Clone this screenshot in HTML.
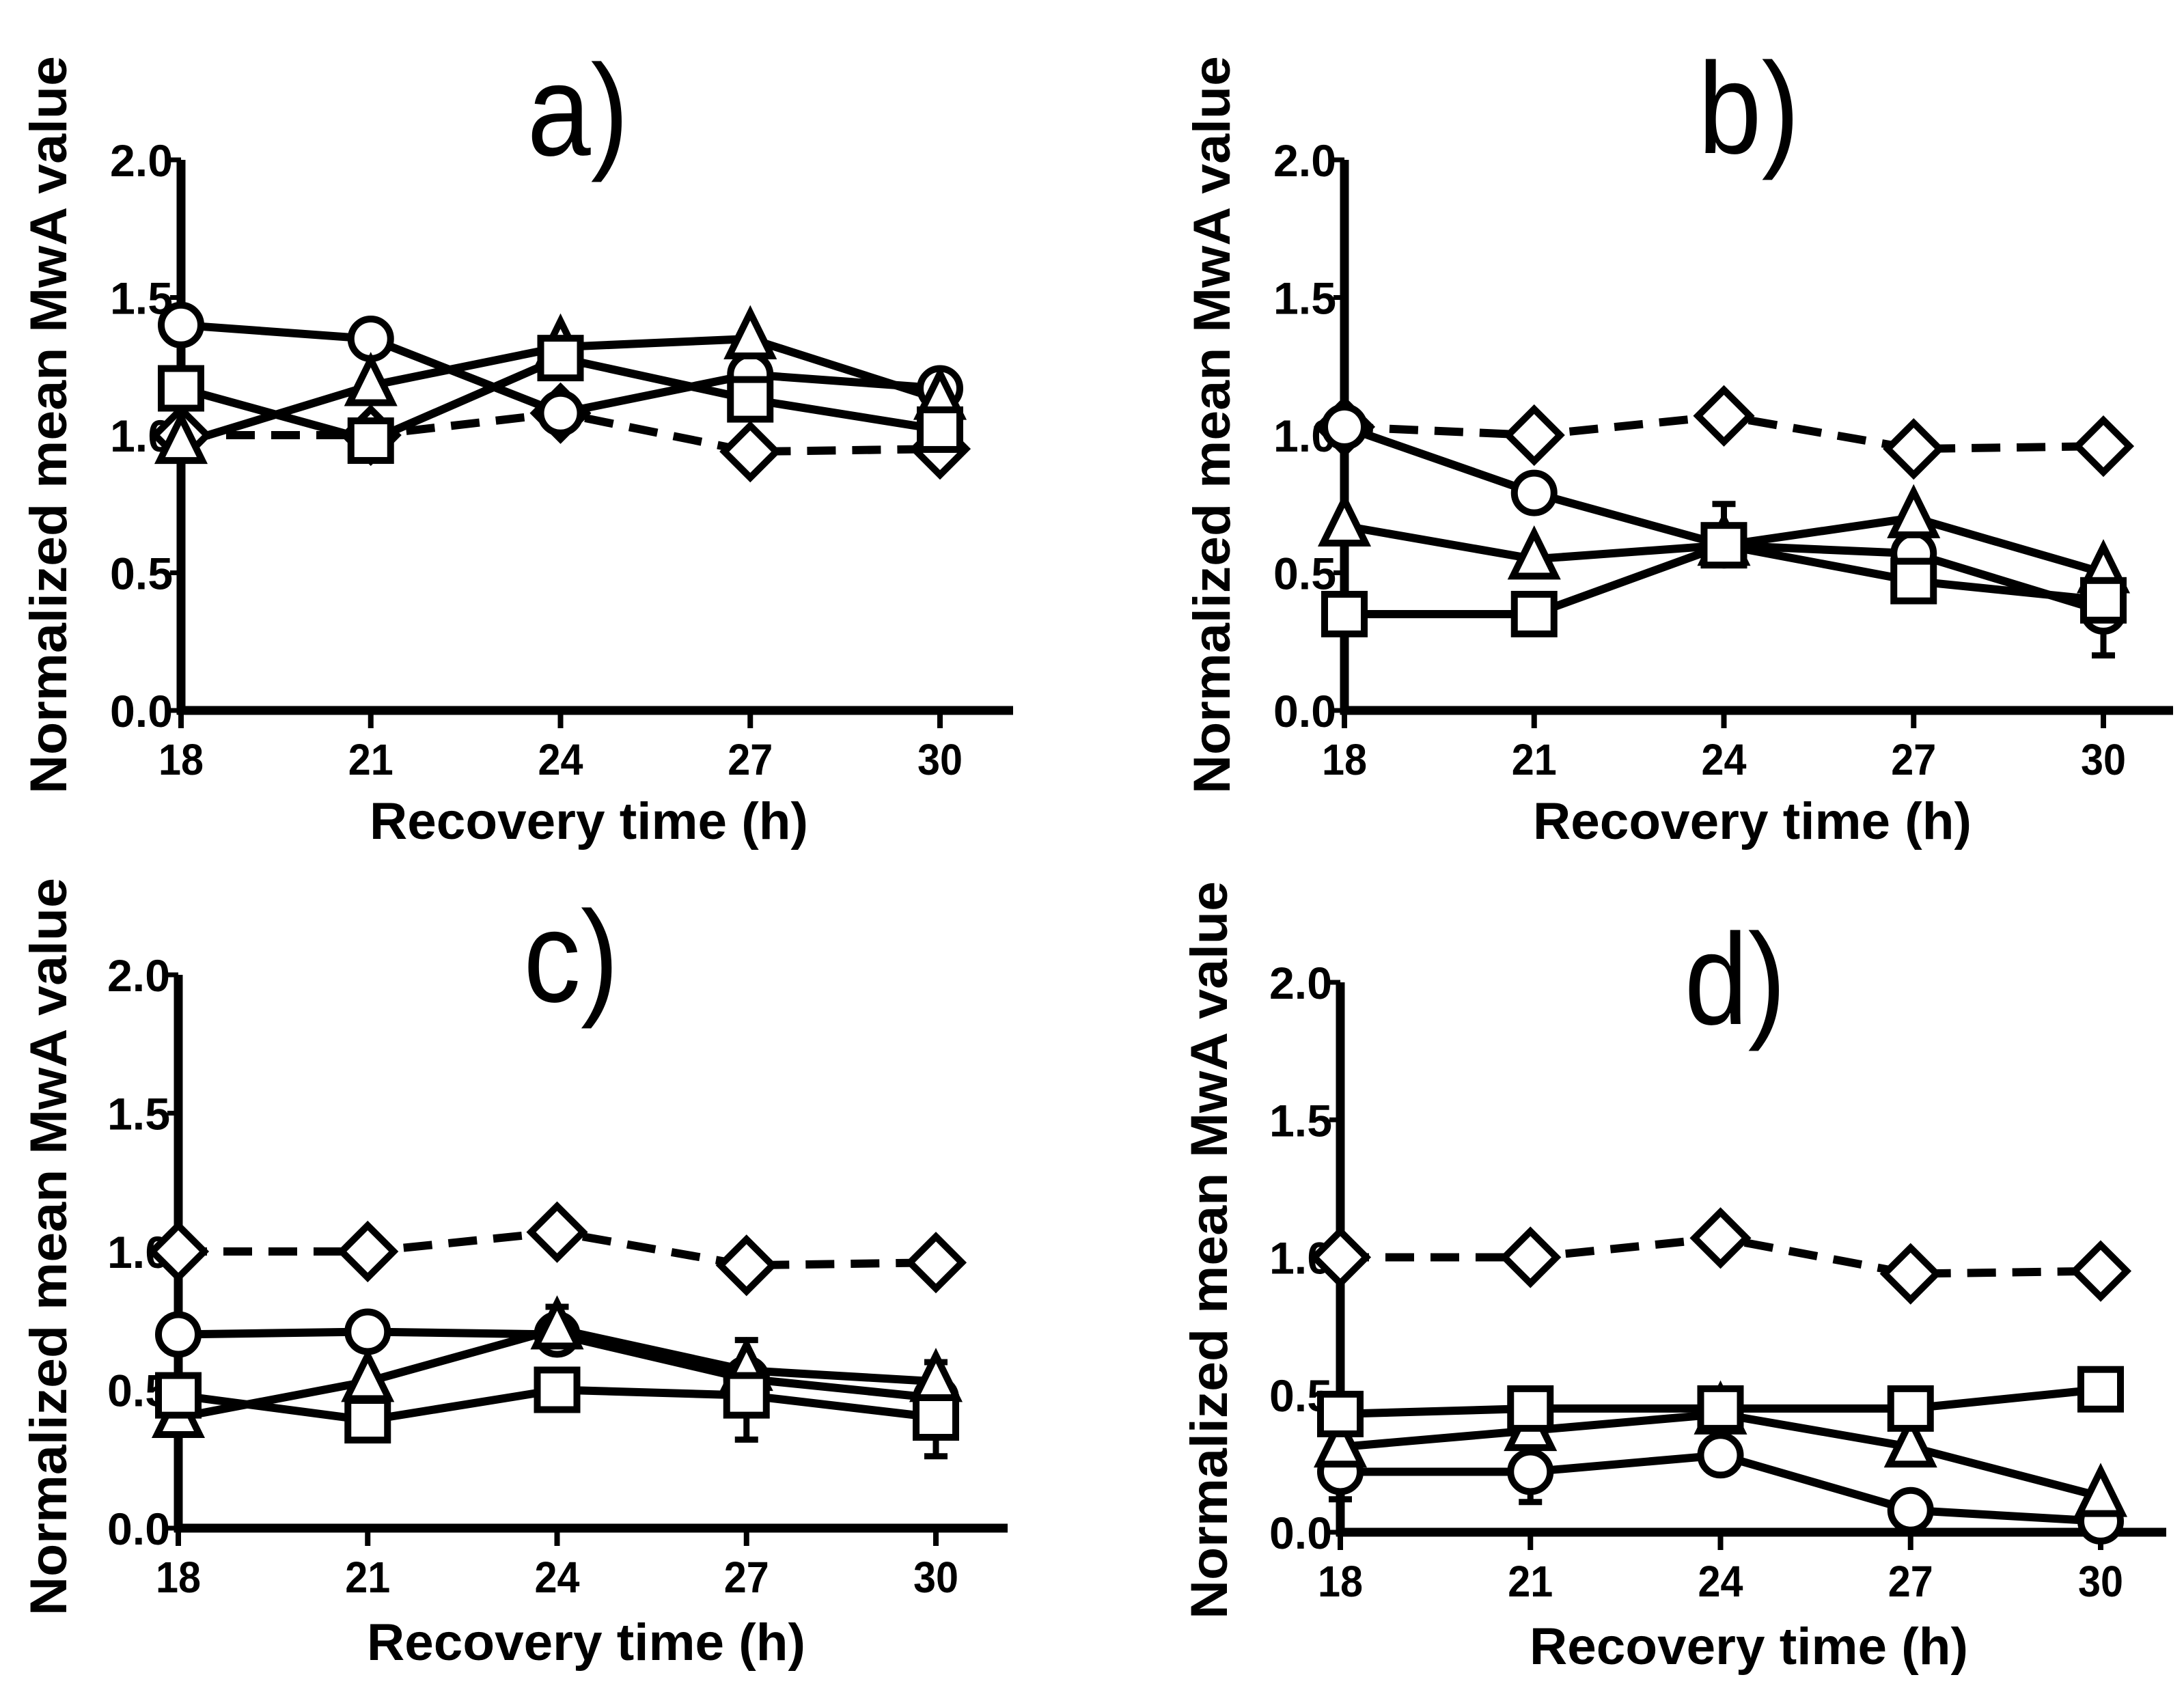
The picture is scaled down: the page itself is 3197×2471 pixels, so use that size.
<!DOCTYPE html>
<html><head><meta charset="utf-8"><style>
html,body{margin:0;padding:0;background:#fff;}
svg{display:block;font-family:"Liberation Sans",Arial,sans-serif;}
</style></head><body>
<svg id="fig" width="3197" height="2471" viewBox="0 0 3197 2471" xmlns="http://www.w3.org/2000/svg"></svg>
<script>
const categories = [18, 21, 24, 27, 30];
const yTicks = [0.0, 0.5, 1.0, 1.5, 2.0];
const yTickLabels = ["0.0", "0.5", "1.0", "1.5", "2.0"];
const xTickLabels = ["18", "21", "24", "27", "30"];
const panelTitles = ["a)", "b)", "c)", "d)"];

const aDiamond = [1.0, 1.0, 1.08, 0.94, 0.95];
const aCircle = [1.40, 1.35, 1.08, 1.22, 1.17];
const aTriangle = [0.97, 1.18, 1.32, 1.35, 1.13];
const aSquare = [1.17, 0.98, 1.28, 1.13, 1.02];

const bDiamond = [1.03, 1.0, 1.07, 0.95, 0.96];
const bCircle = [1.03, 0.79, 0.60, 0.57, 0.36];
const bTriangle = [0.67, 0.55, 0.60, 0.70, 0.50];
const bSquare = [0.35, 0.35, 0.60, 0.47, 0.40];

const cDiamond = [1.0, 1.0, 1.07, 0.95, 0.96];
const cCircle = [0.70, 0.71, 0.70, 0.54, 0.47];
const cTriangle = [0.40, 0.53, 0.72, 0.57, 0.53];
const cSquare = [0.48, 0.39, 0.50, 0.48, 0.40];

const dDiamond = [1.0, 1.0, 1.07, 0.94, 0.95];
const dCircle = [0.22, 0.22, 0.28, 0.08, 0.04];
const dTriangle = [0.31, 0.37, 0.43, 0.31, 0.13];
const dSquare = [0.43, 0.45, 0.45, 0.45, 0.52];

// error bars: [panelIndex, categoryIndex, low, high]
const errorBars = [
  [1, 4, 0.20, 0.50], [1, 1, 0.28, 0.42], [1, 2, 0.55, 0.75],
  [2, 3, 0.32, 0.68], [2, 4, 0.26, 0.60], [2, 2, 0.65, 0.80],
  [3, 0, 0.12, 0.32], [3, 1, 0.11, 0.33]
];

const panels = [
  {x0:265, x1:1376, xEnd:1483, y0:1040, y2:234, tx:846, ty:227, lx:71, lyc:622, xlx:862, xly:1228,
   series:[aDiamond,aCircle,aTriangle,aSquare]},
  {x0:1968, x1:3079, xEnd:3181, y0:1040, y2:234, tx:2560, ty:224, lx:1774, lyc:622, xlx:2565, xly:1228,
   series:[bDiamond,bCircle,bTriangle,bSquare]},
  {x0:261, x1:1370, xEnd:1475, y0:2237, y2:1427, tx:836, ty:1466, lx:71, lyc:1825, xlx:858, xly:2430,
   series:[cDiamond,cCircle,cTriangle,cSquare]},
  {x0:1962, x1:3075, xEnd:3171, y0:2243, y2:1438, tx:2540, ty:1499, lx:1770, lyc:1830, xlx:2560, xly:2436,
   series:[dDiamond,dCircle,dTriangle,dSquare]}
];
const seriesNames = ["diamond","circle","triangle","square"];
const NS = "http://www.w3.org/2000/svg";
const svg = document.getElementById("fig");

function mk(tag, attrs, parent){
  const e = document.createElementNS(NS, tag);
  for (const k in attrs) e.setAttribute(k, attrs[k]);
  parent.appendChild(e);
  return e;
}

panels.forEach((p, pi) => {
  const xs = v => p.x0 + (v - 18) / 12 * (p.x1 - p.x0);
  const ys = v => p.y0 - v / 2 * (p.y0 - p.y2);
  const g = mk("g", {}, svg);
  
  

  // title
  const t = mk("text", {x:0, y:0, "font-size":190, "text-anchor":"middle", fill:"#000",
    transform:`translate(${p.tx},${p.ty}) scale(0.88,1)`}, g);
  t.textContent = panelTitles[pi];
  
  

  // y label
  const yl = mk("text", {x:0, y:0, "font-size":76, "font-weight":"bold", "text-anchor":"middle",
    transform:`translate(${p.lx + 26},${p.lyc}) rotate(-90)`, textLength:1080, lengthAdjust:"spacingAndGlyphs"}, g);
  yl.textContent = "Normalized mean MwA value";
  
  

  // x label
  const xl = mk("text", {x:p.xlx, y:p.xly, "font-size":76, "font-weight":"bold", "text-anchor":"middle", textLength:642, lengthAdjust:"spacingAndGlyphs"}, g);
  xl.textContent = "Recovery time (h)";
  
  

  // axes
  const ya = mk("line", {x1:p.x0, y1:p.y2, x2:p.x0, y2:p.y0 + 6, stroke:"#000", "stroke-width":13}, g);
  
  
  const xa = mk("line", {x1:p.x0 - 6, y1:p.y0, x2:p.xEnd, y2:p.y0, stroke:"#000", "stroke-width":13}, g);
  
  

  yTicks.forEach((v, i) => {
    const tk = mk("line", {x1:p.x0 - 16, y1:ys(v), x2:p.x0, y2:ys(v), stroke:"#000", "stroke-width":7}, g);
    
    
    const lb = mk("text", {x:p.x0 - 12, y:ys(v) + 24, "font-size":66, "font-weight":"bold", "text-anchor":"end", fill:"#000", textLength:92, lengthAdjust:"spacingAndGlyphs"}, g);
    lb.textContent = yTickLabels[i];
    
    
  });
  categories.forEach((c, i) => {
    const tk = mk("line", {x1:xs(c), y1:p.y0, x2:xs(c), y2:p.y0 + 26, stroke:"#000", "stroke-width":8}, g);
    
    
    const lb = mk("text", {x:xs(c), y:p.y0 + 94, "font-size":64, "font-weight":"bold", "text-anchor":"middle", fill:"#000", textLength:66, lengthAdjust:"spacingAndGlyphs"}, g);
    lb.textContent = xTickLabels[i];
    
    
  });

  // error bars
  errorBars.filter(e => e[0] === pi).forEach(e => {
    const x = xs(categories[e[1]]);
    const eb = mk("path", {d:`M${x},${ys(e[2])}V${ys(e[3])}M${x-17},${ys(e[2])}H${x+17}M${x-17},${ys(e[3])}H${x+17}`,
      stroke:"#000", "stroke-width":9, fill:"none"}, g);
    
    
  });

  // lines
  p.series.forEach((s, si) => {
    const d = s.map((v, i) => (i ? "L" : "M") + xs(categories[i]) + "," + ys(v)).join("");
    const attrs = {d:d, stroke:"#000", "stroke-width":12, fill:"none"};
    if (si === 0) attrs["stroke-dasharray"] = "42 24";
    const ln = mk("path", attrs, g);
    
    
  });
  // markers
  p.series.forEach((s, si) => {
    s.forEach((v, i) => {
      const x = xs(categories[i]), y = ys(v);
      let m;
      const st = {fill:"#fff", stroke:"#000", "stroke-width":10};
      if (si === 0) m = mk("path", Object.assign({d:`M${x},${y-38}L${x+38},${y}L${x},${y+38}L${x-38},${y}Z`}, st), g);
      else if (si === 1) m = mk("circle", Object.assign({cx:x, cy:y, r:29}, st), g);
      else if (si === 2) m = mk("path", Object.assign({d:`M${x},${y-38}L${x+31},${y+25}L${x-31},${y+25}Z`}, st), g);
      else m = mk("rect", Object.assign({x:x-29, y:y-29, width:58, height:58}, st), g);
      
      
    });
  });
});
</script>
</body></html>
